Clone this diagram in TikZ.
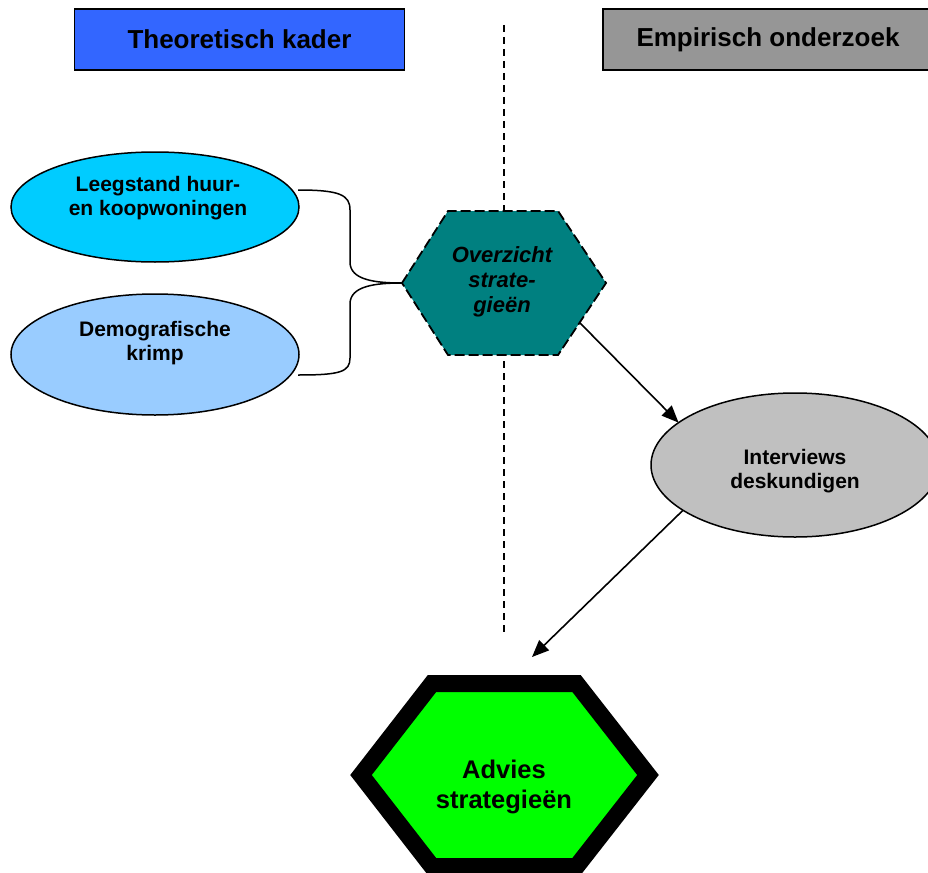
\documentclass[tikz,border=0pt]{standalone}
\usepackage{fontspec}
\setmainfont{Liberation Sans}
\usepackage{tikz}
\usetikzlibrary{arrows.meta}
\usetikzlibrary{shapes}

\definecolor{kaderblue}{HTML}{3366FF}
\definecolor{empiriegray}{HTML}{969696}
\definecolor{leegcyan}{HTML}{00CCFF}
\definecolor{krimpblue}{HTML}{99CCFF}
\definecolor{ovzteal}{HTML}{008080}
\definecolor{intgray}{HTML}{C0C0C0}
\definecolor{adviesgreen}{HTML}{00FF00}

\begin{document}
\begin{tikzpicture}[x=1pt, y=-1pt,
    kop/.style={draw, line width=1.5pt, minimum width=330pt, minimum height=61pt, inner sep=0pt, font=\fontsize{26}{30}\selectfont\bfseries},
    ovaal/.style={ellipse, draw, line width=1.5pt, inner sep=0pt, outer sep=0pt},
    tekst/.style={align=center, font=\fontsize{21}{24}\selectfont\bfseries},
    pijl/.style={-{Triangle[length=17pt,width=14pt]}, line width=1.6pt}]
\useasboundingbox (0,0) rectangle (928,872);

% scheiding theorie / empirie
\coordinate (lijn-boven) at (504,25);
\coordinate (lijn-onder) at (504,635);
\draw[line width=1.5pt, dash pattern=on 7pt off 5pt] (lijn-boven) -- (lijn-onder);

\node[kop, fill=kaderblue] (theorie) at (239.5,39.5) {Theoretisch kader};
\node[kop, fill=empiriegray] (empirie) at (768,39.5) {Empirisch onderzoek};

\begin{scope}
    \node[ovaal, fill=leegcyan, minimum width=288pt, minimum height=110pt] (leeg) at (155,207) {};
    \node[tekst] (leeg-t) at (158,198) {Leegstand huur-\\en koopwoningen};
    \node[ovaal, fill=krimpblue, minimum width=288pt, minimum height=121pt] (krimp) at (155,354.5) {};
    \node[tekst] (krimp-t) at (155,343) {Demografische\\krimp};
    \coordinate (leeg-r) at (298,190);
    \coordinate (krimp-r) at (298,375);
    \coordinate (accolade) at (402,283);
    \draw[line width=1.5pt] (leeg-r) .. controls (340,190) and (350,195) .. (350,210) -- (350,262) .. controls (350,280) and (375,283) .. (accolade);
    \draw[line width=1.5pt] (accolade) .. controls (375,283) and (350,286) .. (350,304) -- (350,358) .. controls (350,372) and (340,375) .. (krimp-r);
\end{scope}

% overzicht
\draw[line width=1.8pt, dash pattern=on 10pt off 4pt, fill=ovzteal] (402,283) -- (448,211) -- (558,211) -- (606,283) -- (558,355) -- (448,355) -- cycle;
\node[align=center, font=\fontsize{22}{25}\selectfont\bfseries\itshape] (ovz) at (502,282) {Overzicht\\strate-\\gieën};
\coordinate (ovz-uit) at (580,323);

\node[ovaal, fill=intgray, minimum width=288pt, minimum height=144pt] (intv) at (795,465) {};
\node[tekst] (intv-t) at (795,471) {Interviews\\deskundigen};

% advies
\draw[line width=17pt, fill=adviesgreen] (361,775) -- (432,683.5) -- (576.5,683.5) -- (648,775) -- (576.5,866.5) -- (432,866.5) -- cycle;
\node[align=center, font=\fontsize{25.5}{30}\selectfont\bfseries] (advies) at (504,787) {Advies\\strategieën};
\coordinate (advies-in) at (532,657);

\draw[pijl] (ovz-uit) -- (intv.160);
\draw[pijl] (intv.202) -- (advies-in);
\end{tikzpicture}
\end{document}
